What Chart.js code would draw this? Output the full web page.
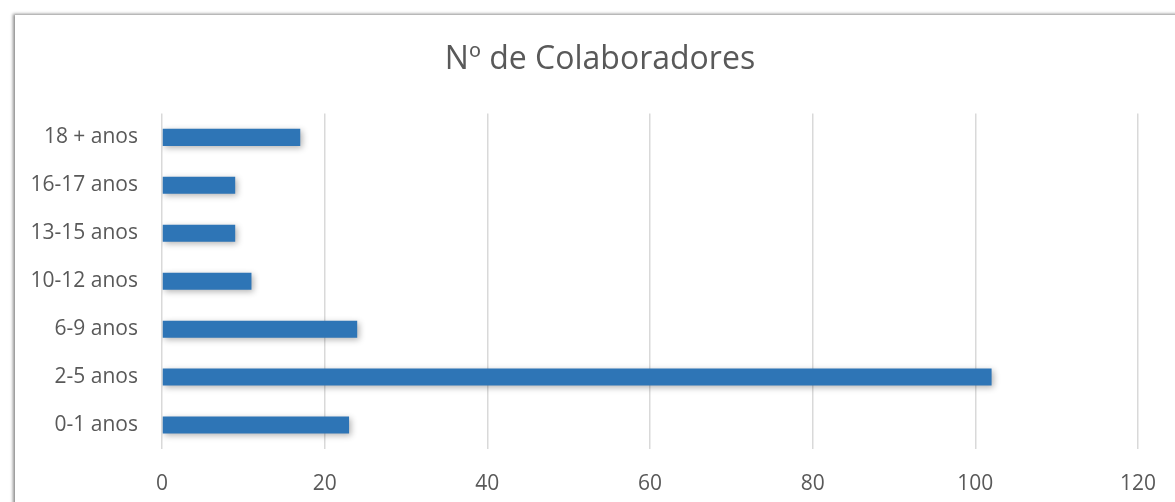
<!DOCTYPE html>
<html>
<head>
<meta charset="utf-8">
<script src="https://cdn.jsdelivr.net/npm/chart.js@4/dist/chart.umd.min.js"></script>
<style>
	html, body { margin: 0; padding: 0; background: #fff; overflow: hidden; }
	#frame {
		position: absolute; left: 15px; top: 15px; width: 1300px; height: 700px;
		background: #fff; box-shadow: -2px -1px 3px rgba(0, 0, 0, 0.45);
	}
	#chart { position: absolute; left: 0; top: 0; }
</style>
</head>
<body>
<div id="frame"></div>
<canvas id="chart" width="1175" height="502"></canvas>
<script>
	// Excel order: first category sits at the bottom
	const categories = ['0-1 anos', '2-5 anos', '6-9 anos', '10-12 anos', '13-15 anos', '16-17 anos', '18 + anos'];
	const colaboradores = [23, 102, 24, 11, 9, 9, 17];
	const xTicks = [0, 20, 40, 60, 80, 100, 120];

	const fontFamily = "'Open Sans', sans-serif";

	// soft shadow under the bars
	const barShadow = {
		id: 'barShadow',
		beforeDatasetsDraw(chart) {
			const ctx = chart.ctx;
			ctx.save();
			ctx.shadowColor = 'rgba(0, 0, 0, 0.3)';
			ctx.shadowBlur = 6;
			ctx.shadowOffsetX = 2;
			ctx.shadowOffsetY = 2;
		},
		afterDatasetsDraw(chart) {
			chart.ctx.restore();
		},
	};

	// centre the title on the framed area (frame starts at x=25-ish, runs off the right edge)
	const titleCentre = {
		id: 'titleCentre',
		afterLayout(chart) {
			const t = chart.titleBlock;
			t.left = 25;
			t.right = 1175;
			t.width = t.right - t.left;
		},
	};

	const ctx = document.getElementById('chart').getContext('2d');
	new Chart(ctx, {
		type: 'bar',
		data: {
			labels: categories,
			datasets: [
				{
					data: colaboradores,
					backgroundColor: '#2e75b6',
					borderWidth: 0,
					categoryPercentage: 1,
					barPercentage: 0.355,
				},
			],
		},
		options: {
			indexAxis: 'y',
			responsive: false,
			animation: false,
			layout: {
				padding: { left: 15, right: 37, top: 41, bottom: 9 },
			},
			plugins: {
				legend: { display: false },
				tooltip: { enabled: false },
				title: {
					display: true,
					text: 'Nº de Colaboradores',
					color: '#595959',
					font: { family: fontFamily, size: 32, weight: 'normal' },
					padding: { top: 0, bottom: 34 },
				},
			},
			scales: {
				x: {
					min: 0,
					max: 120,
					afterBuildTicks(scale) {
						scale.ticks = xTicks.map((v) => ({ value: v }));
					},
					afterFit(scale) {
						scale.height = 44;
						scale.paddingLeft = 0;
						scale.paddingRight = 0;
					},
					grid: { color: '#d9d9d9', lineWidth: 1.5, drawTicks: false },
					border: { display: false },
					ticks: {
						color: '#595959',
						font: { family: fontFamily, size: 21 },
						padding: 22,
						minRotation: 0,
						maxRotation: 0,
					},
				},
				y: {
					reverse: true,
					grid: { display: false, drawTicks: false },
					border: { display: false },
					afterFit(scale) {
						scale.width = 147;
					},
					ticks: {
						color: '#595959',
						font: { family: fontFamily, size: 21 },
						padding: 24,
					},
				},
			},
		},
		plugins: [barShadow, titleCentre],
	});
</script>
</body>
</html>
